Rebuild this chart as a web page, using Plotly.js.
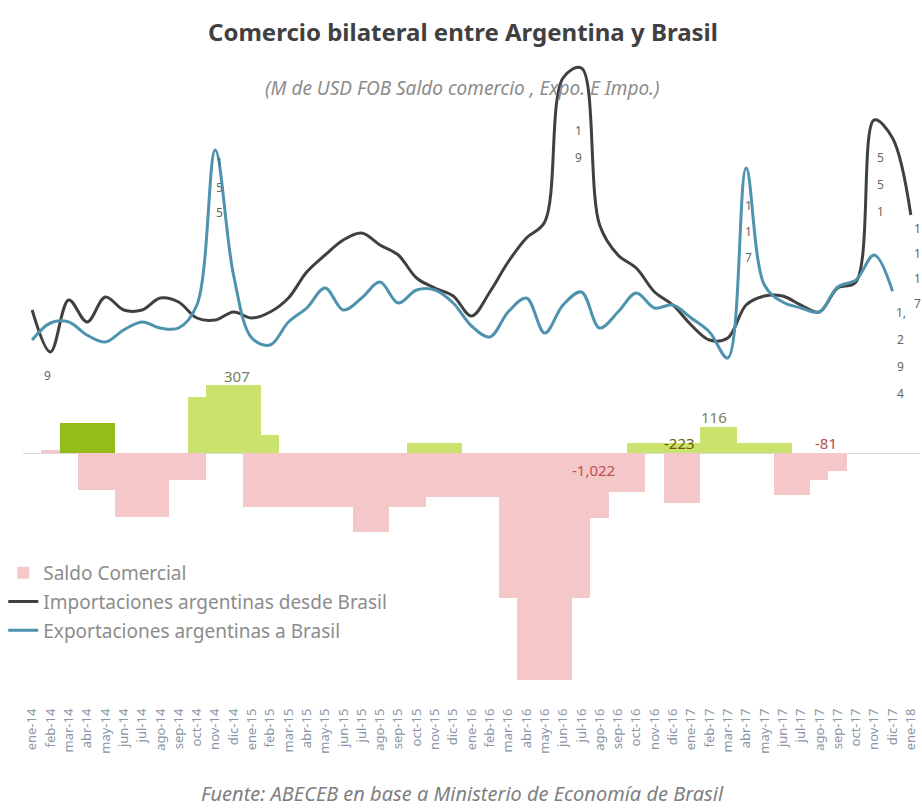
<!DOCTYPE html>
<html>
<head>
<meta charset="utf-8">
<script src="https://cdn.plot.ly/plotly-3.0.1.min.js"></script>
<style>
html,body{margin:0;padding:0;background:#fff;}
#chart{width:922px;height:810px;}
</style>
</head>
<body>
<div id="chart"></div>
<script>
// ---- data ----
const categories = [
 'ene-14','feb-14','mar-14','abr-14','may-14','jun-14','jul-14','ago-14','sep-14','oct-14','nov-14','dic-14',
 'ene-15','feb-15','mar-15','abr-15','may-15','jun-15','jul-15','ago-15','sep-15','oct-15','nov-15','dic-15',
 'ene-16','feb-16','mar-16','abr-16','may-16','jun-16','jul-16','ago-16','sep-16','oct-16','nov-16','dic-16',
 'ene-17','feb-17','mar-17','abr-17','may-17','jun-17','jul-17','ago-17','sep-17','oct-17','nov-17','dic-17',
 'ene-18'
];
// Saldo comercial (pink series)
const saldoComercial = [0,15,0,-167,-167,-288,-288,-288,-122,-122,0,0,
 -243,-243,-243,-243,-243,-243,-356,-356,-243,-243,-198,-198,
 -198,-198,-653,-1022,-1022,-1022,-653,-292,-176,-176,0,-223,
 -223,0,0,0,0,-189,-189,-122,-81,0,0,0,0];
// Saldo positivo (green series)
const saldoPositivo = [0,0,135,135,135,0,0,0,0,252,307,307,
 307,81,0,0,0,0,0,0,0,45,45,45,
 0,0,0,0,0,0,0,0,0,45,45,45,
 45,116,116,45,45,45,0,0,0,0,0,0,0];
// Importaciones argentinas desde Brasil
const importaciones = [1144,808,1224,1048,1248,1144,1144,1240,1208,1080,1064,1128,
 1080,1128,1240,1448,1584,1704,1760,1664,1584,1400,1320,1256,
 1096,1288,1528,1720,1848,3000,3080,1824,1584,1480,1288,1184,
 1024,904,920,1184,1256,1256,1184,1128,1320,1368,2664,2520,1904];
// Exportaciones argentinas a Brasil
const exportaciones = [904,1040,1048,944,888,984,1048,1000,1000,1184,2424,1424,
 920,864,1048,1160,1320,1144,1240,1368,1200,1304,1304,1200,
 1016,928,1128,1240,960,1184,1288,1000,1128,1280,1160,1184,
 1080,968,760,2280,1344,1208,1160,1128,1328,1384,1584,1294,null];
// data-label texts as printed (wrapped one character per line in the source)
const lblImpoInicio = ['9'];
const lblExpoPico1 = ['1','5','5'];
const lblImpoPico1 = ['1','9'];
const lblExpoPico2 = ['1','1','7'];
const lblImpoPico2 = ['5','5','1'];
const lblImpoFinal = ['1','1','1','7'];
const lblExpoFinal = ['1,','2','9','4'];

// ---- styling ----
const PINK = '#f4c7c9';
const DARKGREEN = '#94bd1c';
const LIGHTGREEN = '#c9e36e';
const IMPO = '#404040';
const EXPO = '#4e93ad';
const FONT = 'Noto Sans, Open Sans, sans-serif';
const LBL = '#666666';

const greenColors = saldoPositivo.map((v, i) => i < 6 ? DARKGREEN : LIGHTGREEN);

const traces = [
  {type:'bar', name:'Saldo Comercial', x:categories, y:saldoComercial, legendgroup:'a',
   marker:{color:PINK}, yaxis:'y'},
  {type:'bar', name:'Saldo positivo', x:categories, y:saldoPositivo, showlegend:false, legendgroup:'a',
   marker:{color:greenColors}, yaxis:'y'},
  {type:'scatter', mode:'lines', name:'Importaciones argentinas desde Brasil', x:categories, y:importaciones,
   legendgroup:'b', line:{color:IMPO, width:3, shape:'spline', smoothing:1}, yaxis:'y2'},
  {type:'scatter', mode:'lines', name:'Exportaciones argentinas a Brasil', x:categories, y:exportaciones,
   legendgroup:'c', line:{color:EXPO, width:3, shape:'spline', smoothing:1}, yaxis:'y2'}
];

function fmt(v){ return (v<0?'-':'') + Math.abs(v).toLocaleString('en-US'); }

const minIdx = saldoComercial.indexOf(Math.min(...saldoComercial));
const maxIdx = saldoPositivo.indexOf(Math.max(...saldoPositivo));

// plot area: top 55px, bottom 705px -> paper y = (705 - px)/650
function py(px){ return (705 - px) / 650; }

// vertical (one char per line) data label anchored at a data point
function vlabel(chars, idx, series, yref, xshift, y0, step){
  return chars.map((c, k) => ({text:c, x:categories[idx], y:series[idx], yref:yref, showarrow:false,
    xanchor:'center', yanchor:'middle', xshift:xshift, yshift:-(y0 + k*step),
    font:{family:FONT, size:12, color:LBL}}));
}

const annotations = [
  {text:'<b>Comercio bilateral entre Argentina y Brasil</b>', xref:'paper', yref:'paper', x:0.49, y:py(31),
   showarrow:false, font:{family:FONT, size:24, color:'#404040'}, xanchor:'center', yanchor:'middle'},
  {text:'<i>(M de USD FOB Saldo comercio , Expo. E Impo.)</i>', xref:'paper', yref:'paper', x:0.49, y:py(88),
   showarrow:false, font:{family:FONT, size:19, color:'#8c8c8c'}, xanchor:'center', yanchor:'middle'},
  {text:'<i>Fuente: ABECEB en base a Ministerio de Economía de Brasil</i>', xref:'paper', yref:'paper', x:0.49, y:py(793),
   showarrow:false, font:{family:FONT, size:20, color:'#7f7f7f'}, xanchor:'center', yanchor:'middle'},
  // bar labels
  {text:fmt(saldoPositivo[maxIdx]), x:categories[maxIdx], y:saldoPositivo[maxIdx], yref:'y', showarrow:false,
   xshift:22, yanchor:'middle', yshift:9, font:{family:FONT, size:15, color:'#7a7f5a'}},
  {text:fmt(saldoPositivo[37]), x:categories[37], y:saldoPositivo[37], yref:'y', showarrow:false, xshift:5,
   yanchor:'middle', yshift:10, font:{family:FONT, size:15, color:'#7a7f5a'}},
  {text:fmt(saldoComercial[minIdx]), x:categories[31], y:0, yref:'y', showarrow:false, xshift:-6,
   yanchor:'middle', yshift:-17, font:{family:FONT, size:15, color:'#c0504d'}},
  {text:fmt(saldoComercial[35]), x:categories[35], y:0, yref:'y', showarrow:false, xshift:7,
   yanchor:'middle', yshift:10, font:{family:FONT, size:15, color:'#6b5a00'}},
  {text:fmt(saldoComercial[44]), x:categories[43], y:0, yref:'y', showarrow:false, xshift:7,
   yanchor:'middle', yshift:10, font:{family:FONT, size:15, color:'#b0504d'}},
  // line labels
  ...vlabel(lblImpoInicio, 1, importaciones, 'y2', -3, 23, 26),
  ...vlabel(lblExpoPico1, 10, exportaciones, 'y2', 4, 12, 25),
  ...vlabel(lblImpoPico1, 30, importaciones, 'y2', -3, 62, 27),
  ...vlabel(lblExpoPico2, 39, exportaciones, 'y2', 2, 37, 26),
  ...vlabel(lblImpoPico2, 46, importaciones, 'y2', 6, 37, 27),
  ...vlabel(lblImpoFinal, 48, importaciones, 'y2', 7, 13, 25),
  ...vlabel(lblExpoFinal, 47, exportaciones, 'y2', 8, 21, 27)
];

const layout = {
  width:922, height:810,
  paper_bgcolor:'#ffffff', plot_bgcolor:'rgba(0,0,0,0)',
  margin:{l:23, r:2, t:55, b:105, autoexpand:false},
  barmode:'relative', bargap:0,
  showlegend:true,
  legend:{xref:'paper', yref:'paper', x:-0.022, y:py(554), xanchor:'left', yanchor:'top',
    bgcolor:'rgba(0,0,0,0)', font:{family:FONT, size:19, color:'#8c8c8c'}, traceorder:'grouped',
    tracegroupgap:1},
  xaxis:{type:'category', range:[-0.5, categories.length-0.5], tickangle:-90, showgrid:false, showline:false,
    ticks:'', zeroline:false, tickfont:{family:FONT, size:13, color:'#8a96a8'}, automargin:false},
  yaxis:{range:[-1134, 1791], showgrid:false, showticklabels:false, zeroline:true, zerolinecolor:'#d9d9d9',
    zerolinewidth:1, showline:false, ticks:'', automargin:false},
  yaxis2:{range:[-2016, 3184], overlaying:'y', side:'right', showgrid:false, showticklabels:false,
    zeroline:false, showline:false, ticks:'', automargin:false},
  annotations:annotations
};

Plotly.newPlot('chart', traces, layout, {displayModeBar:false, staticPlot:true});
</script>
</body>
</html>
